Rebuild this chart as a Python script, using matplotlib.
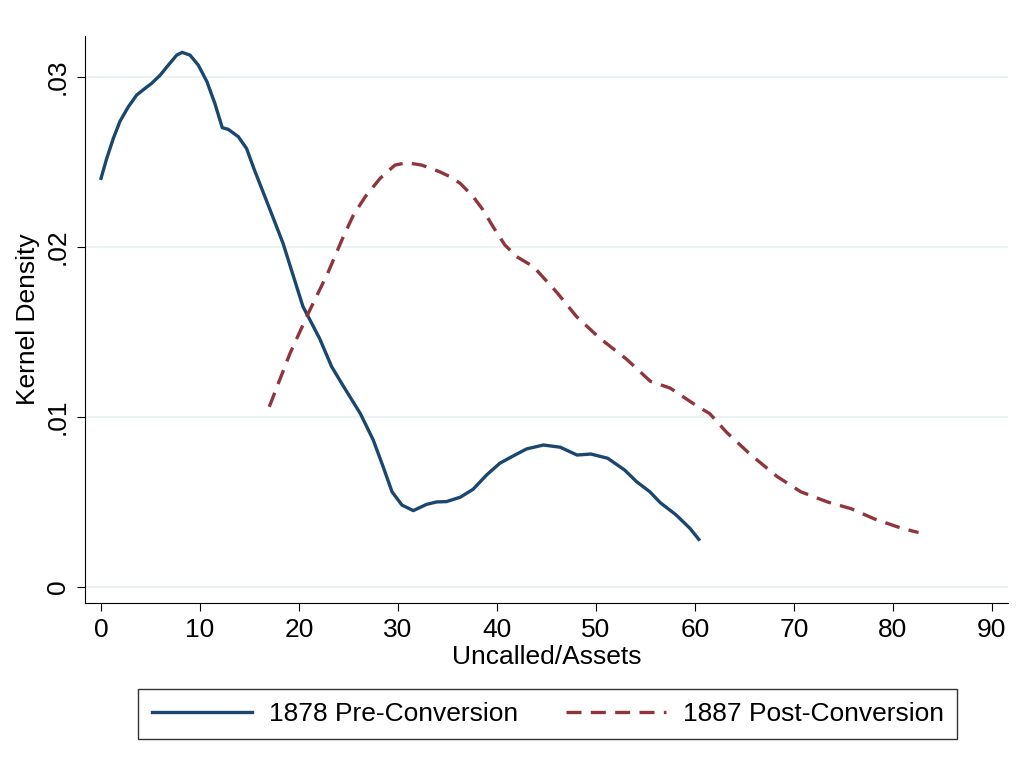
import numpy as np
import matplotlib.pyplot as plt

plt.rcParams['font.family'] = ['Liberation Sans', 'DejaVu Sans']

# 1878 pre-conversion density
pre_x = [0, 0.57, 1.25, 1.92, 2.76, 3.6, 4.44, 5.12, 5.96, 6.8, 7.65, 8.2, 8.99, 9.83,
         10.7, 11.5, 12.25, 12.86, 13.87, 14.7, 15.5, 17.07, 18.4, 20.4, 22.1, 23.3, 24.5,
         26.2, 27.5, 28.5, 29.4, 30.4, 31.55, 32.9, 33.9, 34.9, 36.3, 37.6, 38.96, 40.3,
         41.65, 43.0, 44.7, 46.4, 48.1, 49.5, 51.2, 52.9, 54.1, 55.45, 56.5, 58.1, 59.5, 60.4]
pre_y = [.02404, .0252, .0264, .0274, .02825, .02894, .02933, .02963, .0301, .0307, .03129,
         .03145, .03129, .0307, .02973, .02845, .02702, .02692, .02649, .0258, .02453, .0222,
         .0202, .0165, .0146, .01296, .0118, .0102, .00865, .00708, .0056, .00482, .00449,
         .00486, .0050, .00502, .00528, .00575, .00659, .00728, .00771, .00812, .00835,
         .00822, .00776, .00782, .00757, .00688, .0062, .0056, .00496, .00424, .00345, .0028]

# 1887 post-conversion density
post_x = [17.0, 19.1, 20.94, 22.9, 24.4, 25.5, 26.7, 28.2, 29.7, 30.9, 32.4, 34.2, 35.25,
          36.3, 37.6, 38.6, 39.6, 40.8, 42.0, 43.7, 46.1, 48.05, 50.4, 53.1, 55.5, 57.5,
          60.33, 61.5, 63.2, 65.6, 68.3, 70.7, 73.4, 75.8, 78.15, 80.9, 82.6]
post_y = [.0106, .01375, .0161, .01845, .0205, .02188, .02296, .02404, .02482, .02496,
          .02482, .02443, .02414, .02374, .02296, .02218, .0212, .02012, .01943, .01884,
          .0173, .0159, .01463, .0134, .0121, .0117, .0106, .0102, .0091, .0078, .0065,
          .0056, .0050, .0046, .0040, .00345, .0032]

fs = 19

fig = plt.figure(figsize=(10.24, 7.71), dpi=100)
ax = fig.add_axes([0.083, 0.218, 0.901, 0.735])

ax.plot(pre_x, pre_y, color='#1a476f', lw=2.4, label='1878 Pre-Conversion',
        solid_joinstyle='round')
ax.plot(post_x, post_y, color='#90353b', lw=2.4, ls=(0, (4.5, 2.8)),
        label='1887 Post-Conversion')

ax.set_xlim(-1.62, 91.6)
ax.set_ylim(-0.00094, 0.0324)
ax.set_xticks(np.arange(0, 91, 10))
ax.set_yticks([0, .01, .02, .03])
ax.set_yticklabels(['0', '.01', '.02', '.03'], rotation=90, va='center')
ax.tick_params(labelsize=fs, length=6, color='black', pad=5)
ax.grid(axis='y', color='#eaf2f3', lw=1.5)
ax.set_axisbelow(True)
for s in ['top', 'right']:
    ax.spines[s].set_visible(False)
ax.set_xlabel('Uncalled/Assets', fontsize=fs, labelpad=2)
ax.set_ylabel('Kernel Density', fontsize=fs, labelpad=4)

leg = fig.legend(loc='center', bbox_to_anchor=(0.535, 0.074), ncol=2, fontsize=fs,
                 frameon=True, fancybox=False, edgecolor='black', handlelength=3.8,
                 columnspacing=1.8, borderpad=0.5, handletextpad=0.65)
leg.get_frame().set_linewidth(1.0)

plt.savefig('out.png')
